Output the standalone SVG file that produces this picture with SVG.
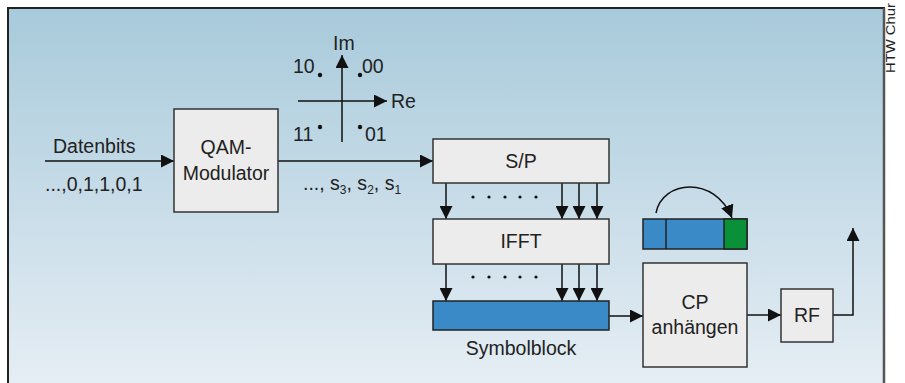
<svg xmlns="http://www.w3.org/2000/svg" width="905" height="383" viewBox="0 0 905 383">
<defs>
<linearGradient id="bg" x1="0" y1="0" x2="0" y2="1">
<stop offset="0" stop-color="#a8cadb"/>
<stop offset="1" stop-color="#e8eff5"/>
</linearGradient>
<marker id="ah" viewBox="0 0 10 10" refX="10" refY="5" markerWidth="10" markerHeight="10" markerUnits="userSpaceOnUse" orient="auto">
<path d="M0,0 L10,5 L0,10 z" fill="#111"/>
</marker>
<marker id="ahL" viewBox="0 0 10 10" refX="10" refY="5" markerWidth="13" markerHeight="13" markerUnits="userSpaceOnUse" orient="auto">
<path d="M0,0 L10,5 L0,10 z" fill="#111"/>
</marker>
</defs>
<style>
text{font-family:"Liberation Sans",Arial,sans-serif;fill:#222;font-size:19.5px}
.box{fill:#ececec;stroke:#333;stroke-width:1.5}
.ln{stroke:#111;stroke-width:1.5;fill:none}
.dot{fill:#111}
</style>
<rect x="8" y="8" width="876" height="390" fill="url(#bg)"/>
<path d="M8,390 V8 H884 V390" fill="none" stroke="#222" stroke-width="2"/>
<path d="M884,8 V390" stroke="#555" stroke-width="2.5"/>
<text transform="translate(895,73) rotate(-90)" style="font-size:12.5px" textLength="70" lengthAdjust="spacingAndGlyphs">HTW Chur</text>

<g id="connectors">
<path class="ln" d="M45,161 H174" marker-end="url(#ahL)"/>
<path class="ln" d="M278,161 H433" marker-end="url(#ahL)"/>
<path class="ln" d="M446,183 V219" marker-end="url(#ahL)"/>
<path class="ln" d="M562,183 V219" marker-end="url(#ahL)"/>
<path class="ln" d="M579,183 V219" marker-end="url(#ahL)"/>
<path class="ln" d="M597,183 V219" marker-end="url(#ahL)"/>
<path class="ln" d="M446,264 V301" marker-end="url(#ahL)"/>
<path class="ln" d="M562,264 V301" marker-end="url(#ahL)"/>
<path class="ln" d="M579,264 V301" marker-end="url(#ahL)"/>
<path class="ln" d="M597,264 V301" marker-end="url(#ahL)"/>
<path class="ln" d="M609,316 H643" marker-end="url(#ahL)"/>
<path class="ln" d="M747,315 H781" marker-end="url(#ahL)"/>
<path class="ln" d="M833,315 H853 V228" marker-end="url(#ahL)"/>
<path class="ln" d="M656,213 C662,180 715,175 732,218" marker-end="url(#ahL)"/>
</g>

<g id="constellation">
<path class="ln" d="M342,142 V55" marker-end="url(#ahL)"/>
<path class="ln" d="M298,101 H387" marker-end="url(#ahL)"/>
<circle class="dot" cx="320" cy="75" r="2.2"/>
<circle class="dot" cx="360" cy="75" r="2.2"/>
<circle class="dot" cx="320" cy="127" r="2.2"/>
<circle class="dot" cx="360" cy="127" r="2.2"/>
<text x="333" y="50">Im</text>
<text x="391" y="108">Re</text>
<text x="293" y="73">10</text>
<text x="362" y="73">00</text>
<text x="293" y="141">11</text>
<text x="365" y="141">01</text>
</g>

<g id="input">
<text x="53" y="153">Datenbits</text>
<text x="45" y="191">...,0,1,1,0,1</text>
</g>

<g id="qam">
<rect class="box" x="174" y="109" width="104" height="103"/>
<text x="226" y="154" text-anchor="middle">QAM-</text>
<text x="226" y="180" text-anchor="middle">Modulator</text>
</g>

<g id="symbols">
<text x="303" y="190">..., s<tspan dy="4" style="font-size:12px">3</tspan><tspan dy="-4">, s</tspan><tspan dy="4" style="font-size:12px">2</tspan><tspan dy="-4">, s</tspan><tspan dy="4" style="font-size:12px">1</tspan></text>
</g>

<g id="sp">
<rect class="box" x="433" y="139" width="176" height="44"/>
<text x="521" y="168" text-anchor="middle">S/P</text>
</g>

<g id="dots1">
<circle class="dot" cx="473" cy="197" r="1.6"/>
<circle class="dot" cx="489" cy="197" r="1.6"/>
<circle class="dot" cx="505" cy="197" r="1.6"/>
<circle class="dot" cx="520" cy="197" r="1.6"/>
<circle class="dot" cx="536" cy="197" r="1.6"/>
</g>

<g id="ifft">
<rect class="box" x="433" y="219" width="176" height="45"/>
<text x="521" y="248" text-anchor="middle">IFFT</text>
</g>

<g id="dots2">
<circle class="dot" cx="473" cy="277" r="1.6"/>
<circle class="dot" cx="489" cy="277" r="1.6"/>
<circle class="dot" cx="505" cy="277" r="1.6"/>
<circle class="dot" cx="520" cy="277" r="1.6"/>
<circle class="dot" cx="536" cy="277" r="1.6"/>
</g>

<g id="symbolblock">
<rect x="433" y="301" width="176" height="29" fill="#3a8ac8" stroke="#222" stroke-width="1.5"/>
<text x="521" y="355" text-anchor="middle">Symbolblock</text>
</g>

<g id="cpblock">
<rect x="643" y="219" width="104" height="30" fill="#3a8ac8" stroke="#222" stroke-width="1.5"/>
<rect x="724" y="219" width="23" height="30" fill="#0a9038" stroke="#222" stroke-width="1.5"/>
<path d="M666,219 V249" stroke="#222" stroke-width="1.5"/>
</g>

<g id="cp">
<rect class="box" x="643" y="263" width="104" height="104"/>
<text x="695" y="309" text-anchor="middle">CP</text>
<text x="695" y="334" text-anchor="middle">anhängen</text>
</g>

<g id="rf">
<rect class="box" x="781" y="289" width="52" height="53"/>
<text x="807" y="322" text-anchor="middle">RF</text>
</g>
</svg>
